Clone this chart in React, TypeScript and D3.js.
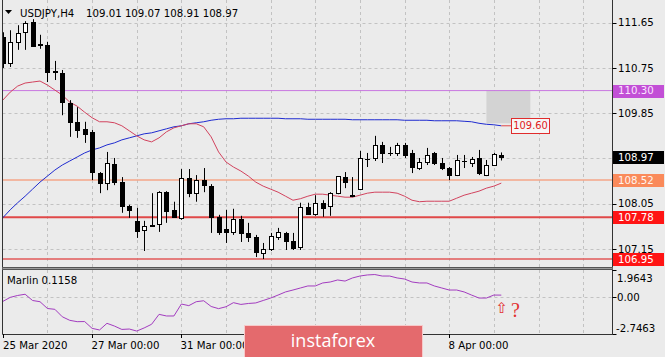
import React, { useEffect } from "react";
import * as d3 from "d3";

const W = 665;
const H = 357;

const symbolName = "USDJPY,H4";
const lastQuote = "109.01 109.07 108.91 108.97";
const indicatorName = "Marlin 0.1158";

const openP = [111.37, 110.85, 111.27, 111.46, 111.66, 111.23, 111.21, 110.69, 110.65, 110.05,
  109.68, 109.54, 109.48, 108.66, 108.46, 108.84, 108.48, 108.01, 107.71, 107.53,
  107.61, 107.65, 108.28, 107.93, 107.77, 108.56, 108.26, 108.52, 108.40, 107.79,
  107.55, 107.49, 107.75, 107.47, 107.39, 107.07, 107.15, 107.39, 107.47, 107.31,
  107.19, 107.99, 107.85, 108.07, 108.01, 108.26, 108.58, 108.22, 108.34, 108.94,
  108.96, 109.22, 109.06, 109.06, 109.22, 109.06, 108.76, 108.88, 109.06, 108.86,
  108.76, 108.62, 108.90, 108.86, 108.96, 108.62, 108.82, 109.01];
const highP = [111.46, 111.50, 111.60, 111.68, 111.72, 111.41, 111.27, 110.89, 110.71, 110.11,
  109.97, 109.68, 109.52, 108.68, 109.08, 108.96, 108.58, 108.03, 107.97, 107.71,
  108.26, 108.30, 108.30, 108.09, 108.74, 108.74, 108.62, 108.76, 108.44, 107.83,
  107.93, 107.95, 107.81, 107.67, 107.43, 107.27, 107.47, 107.57, 107.49, 107.47,
  108.07, 108.07, 108.22, 108.12, 108.28, 108.60, 108.68, 108.58, 109.10, 109.06,
  109.40, 109.28, 109.18, 109.26, 109.26, 109.12, 108.96, 109.16, 109.08, 108.96,
  108.78, 109.02, 109.02, 108.98, 109.12, 108.92, 109.06, 109.07];
const lowP = [110.75, 110.77, 111.11, 111.11, 111.17, 111.13, 110.47, 110.51, 109.81, 109.38,
  109.36, 109.26, 108.52, 108.26, 108.32, 108.42, 107.87, 107.77, 107.37, 107.11,
  107.59, 107.49, 107.67, 107.77, 107.73, 108.18, 108.09, 108.28, 107.47, 107.43,
  107.27, 107.43, 107.29, 107.29, 106.99, 106.95, 107.11, 107.33, 107.13, 107.13,
  107.13, 107.83, 107.81, 107.79, 107.81, 108.24, 108.36, 108.18, 108.32, 108.78,
  108.90, 108.86, 109.00, 109.00, 108.96, 108.66, 108.72, 108.82, 108.82, 108.72,
  108.52, 108.60, 108.76, 108.78, 108.62, 108.60, 108.80, 108.91];
const closeP = [110.85, 111.27, 111.44, 111.64, 111.19, 111.21, 110.67, 110.67, 110.07, 109.68,
  109.52, 109.44, 108.68, 108.46, 108.86, 108.48, 108.01, 107.93, 107.51, 107.61,
  107.63, 108.28, 107.91, 107.79, 108.56, 108.26, 108.52, 108.42, 107.79, 107.49,
  107.49, 107.75, 107.47, 107.39, 107.09, 107.15, 107.41, 107.49, 107.31, 107.17,
  107.99, 107.85, 108.07, 107.97, 108.26, 108.60, 108.48, 108.20, 108.96, 108.94,
  109.22, 109.06, 109.06, 109.22, 109.02, 108.78, 108.88, 109.02, 108.86, 108.76,
  108.62, 108.92, 108.90, 108.94, 108.66, 108.82, 109.04, 108.97];

const maFast = [110.11, 110.27, 110.39, 110.45, 110.47, 110.49, 110.41, 110.31, 110.21, 110.07,
  109.99, 109.87, 109.76, 109.68, 109.68, 109.66, 109.60, 109.50, 109.40, 109.32,
  109.28, 109.36, 109.48, 109.56, 109.60, 109.64, 109.64, 109.58, 109.38, 109.08,
  108.88, 108.78, 108.70, 108.60, 108.48, 108.40, 108.34, 108.28, 108.20, 108.12,
  108.15, 108.20, 108.24, 108.24, 108.22, 108.20, 108.18, 108.18, 108.22, 108.26,
  108.28, 108.28, 108.28, 108.26, 108.20, 108.12, 108.09, 108.10, 108.10, 108.10,
  108.10, 108.16, 108.22, 108.26, 108.30, 108.36, 108.40, 108.46];
const maSlow = [107.77, 107.93, 108.07, 108.20, 108.34, 108.48, 108.60, 108.72, 108.82, 108.90,
  108.98, 109.06, 109.12, 109.16, 109.22, 109.26, 109.32, 109.36, 109.40, 109.44,
  109.46, 109.50, 109.54, 109.58, 109.60, 109.64, 109.66, 109.68, 109.71, 109.73,
  109.74, 109.74, 109.75, 109.75, 109.75, 109.75, 109.75, 109.75, 109.74, 109.74,
  109.74, 109.73, 109.73, 109.73, 109.73, 109.73, 109.73, 109.72, 109.72, 109.72,
  109.72, 109.72, 109.72, 109.72, 109.71, 109.71, 109.71, 109.71, 109.70, 109.70,
  109.70, 109.70, 109.69, 109.68, 109.65, 109.63, 109.62, 109.60];
const slowLabel = "109.60";

const marlin = [-0.35, -0.05, 0.09, 0.18, -0.28, -0.37, -0.87, -0.93, -1.48, -1.74,
  -1.84, -1.83, -2.33, -2.45, -1.96, -2.16, -2.41, -2.38, -2.53, -2.30,
  -2.03, -1.30, -1.42, -1.42, -0.54, -0.66, -0.37, -0.30, -0.72, -0.88,
  -0.74, -0.44, -0.57, -0.50, -0.46, -0.28, -0.10, 0.12, 0.35, 0.49,
  0.64, 0.79, 0.79, 1.01, 1.08, 1.23, 1.15, 1.38, 1.52, 1.60,
  1.63, 1.52, 1.52, 1.38, 1.30, 1.08, 1.01, 1.01, 0.79, 0.64,
  0.49, 0.49, 0.35, 0.12, -0.10, -0.10, 0.12, 0.1158];

const priceGrid = [111.65, 110.75, 109.85, 108.95, 108.05, 107.15];
const priceTickLabels = ["111.65", "110.75", "109.85", "", "108.05", "107.15"];
const levelPrices = [110.30, 108.52, 107.78, 106.95];
const levelLabels = ["110.30", "108.52", "107.78", "106.95"];
const lastPrice = 108.97;
const lastPriceLabel = "108.97";

const oscTicks = [1.9643, 0, -2.7463];
const oscTickLabels = ["1.9643", "0.00", "-2.7463"];
const oscDomain = [-2.7463, 1.9643];

const timeTickBars = [0, 12, 24, 60];
const timeTickLabels = ["25 Mar 2020", "27 Mar 00:00", "31 Mar 00:00", "8 Apr 00:00"];
const gridBars = [6, 12, 18, 24, 30, 36, 42, 48, 54, 60, 66, 72, 78];

const zoneBars = [65, 70.9];
const zonePrices = [110.30, 109.65];

const FONT = "'DejaVu Sans', Verdana, sans-serif";
const levelLine = ["#c878e0", "#f4a688", "#e04848", "#e25858"];
const levelWidth = [1, 1.5, 2, 1.5];
const levelBox = ["#c24fd6", "#fa8a5a", "#ff1414", "#ff1414"];
const levelText = ["#fbe4ff", "#fff4ee", "#ffffff", "#ffffff"];

export default function App() {
  useEffect(() => {
    document.body.style.margin = "0";
  }, []);

  const left = 2.5;
  const right = 612.5;
  const mainBottom = 267;
  const oscTop = 270;
  const oscBottom = 334;

  const x = d3.scaleLinear().domain([0, 67]).range([2.8, 501.3]);
  const y = d3.scaleLinear().domain([107.15, 111.65]).range([249, 22.7]);
  const yo = d3.scaleLinear().domain(oscDomain).range([oscBottom, oscTop]);

  const lineP = d3.line<number>().x((_, i) => x(i)).y((d) => y(d));
  const lineO = d3.line<number>().x((_, i) => x(i)).y((d) => yo(d));

  const oscLabelY = [278.3, 297.6, 328.2];
  const boxX = Math.round(x(67) + 10) + 0.5;

  return (
    <svg width={W} height={H} style={{ display: "block", background: "#ebebeb" }}>
      <defs>
        <clipPath id="mainClip">
          <rect x={3} y={0} width={right - 3} height={mainBottom} />
        </clipPath>
        <clipPath id="oscClip">
          <rect x={3} y={oscTop} width={right - 3} height={oscBottom - oscTop} />
        </clipPath>
      </defs>
      <rect x={0} y={0} width={W} height={H} fill="#ebebeb" />

      {/* grid */}
      <g stroke="#c2c2c2" strokeDasharray="3,3" strokeWidth={1}>
        {gridBars.map((b) => (
          <g key={b}>
            <line x1={Math.round(x(b)) + 0.5} x2={Math.round(x(b)) + 0.5} y1={0} y2={mainBottom} />
            <line x1={Math.round(x(b)) + 0.5} x2={Math.round(x(b)) + 0.5} y1={oscTop} y2={oscBottom} />
          </g>
        ))}
        {priceGrid.map((p) => (
          <line key={p} x1={left} x2={right} y1={Math.round(y(p)) + 0.5} y2={Math.round(y(p)) + 0.5} />
        ))}
        <line x1={left} x2={right} y1={Math.round(yo(0)) + 0.5} y2={Math.round(yo(0)) + 0.5} />
      </g>

      <g clipPath="url(#mainClip)">
        <rect
          x={x(zoneBars[0])}
          y={y(zonePrices[0])}
          width={x(zoneBars[1]) - x(zoneBars[0])}
          height={y(zonePrices[1]) - y(zonePrices[0])}
          fill="#d3d3d3"
        />
        {levelPrices.map((p, i) => (
          <line key={p} x1={left} x2={right} y1={y(p)} y2={y(p)} stroke={levelLine[i]} strokeWidth={levelWidth[i]} />
        ))}
        <path d={lineP(maSlow) || ""} fill="none" stroke="#1f2bd0" strokeWidth={1} />
        <path d={lineP(maFast) || ""} fill="none" stroke="#d2435e" strokeWidth={1} />
        {openP.map((o, i) => {
          const cx = Math.round(x(i)) + 0.5;
          const c = closeP[i];
          const up = c > o;
          const top = Math.round(y(Math.max(o, c))) + 0.5;
          const bot = Math.round(y(Math.min(o, c))) + 0.5;
          return (
            <g key={i}>
              <line x1={cx} x2={cx} y1={y(highP[i])} y2={y(lowP[i])} stroke="#000" strokeWidth={1} />
              {bot - top < 1 ? (
                <line x1={cx - 2.5} x2={cx + 2.5} y1={top} y2={top} stroke="#000" strokeWidth={1} />
              ) : (
                <rect x={cx - 2} y={top} width={4} height={bot - top} fill={up ? "#fff" : "#000"} stroke="#000" strokeWidth={1} />
              )}
            </g>
          );
        })}
      </g>

      {/* slow MA label */}
      <line x1={x(67)} x2={boxX} y1={y(maSlow[67])} y2={y(maSlow[67])} stroke="#e04848" strokeWidth={1} />
      <rect x={boxX} y={Math.round(y(maSlow[67]) - 8) + 0.5} width={38} height={15} fill="#f6f6f6" stroke="#e02c2c" strokeWidth={1} />
      <text x={boxX + 1.8} y={y(maSlow[67])} dy="0.36em" fontFamily={FONT} fontSize={9.9} fill="#e02020">
        {slowLabel}
      </text>

      {/* header */}
      <path d="M5,10 L12,10 L8.5,14 Z" fill="#000" />
      <text x={20} y={16.5} fontFamily={FONT} fontSize={10.2} fill="#000">{symbolName}</text>
      <text x={86} y={16.5} fontFamily={FONT} fontSize={10.2} fill="#000">{lastQuote}</text>

      {/* oscillator */}
      <g clipPath="url(#oscClip)">
        <path d={lineO(marlin) || ""} fill="none" stroke="#a23cbf" strokeWidth={1} />
      </g>
      <text x={7} y={284} fontFamily={FONT} fontSize={10.2} fill="#000">{indicatorName}</text>
      <text x={495.5} y={313} fontFamily={FONT} fontSize={15} fill="#e23030">⇧</text>
      <text x={511} y={317} fontFamily="'Liberation Serif', serif" fontSize={20} fill="#e23030">?</text>

      {/* frames */}
      <g stroke="#333" strokeWidth={1} fill="none">
        <line x1={left} x2={left} y1={0} y2={oscBottom + 0.5} />
        <line x1={right} x2={right} y1={0} y2={oscBottom + 0.5} />
        <line x1={left} x2={right} y1={oscBottom + 0.5} y2={oscBottom + 0.5} />
      </g>
      <rect x={left} y={mainBottom} width={right - left} height={oscTop - mainBottom} fill="#9a9a9a" />
      <line x1={left} x2={right} y1={mainBottom + 0.5} y2={mainBottom + 0.5} stroke="#555" />
      <line x1={left} x2={right} y1={oscTop - 0.5} y2={oscTop - 0.5} stroke="#555" />

      {/* price axis */}
      {priceGrid.map((p, i) =>
        priceTickLabels[i] ? (
          <g key={p}>
            <line x1={right} x2={right + 4} y1={Math.round(y(p)) + 0.5} y2={Math.round(y(p)) + 0.5} stroke="#000" />
            <text x={618} y={y(p)} dy="0.36em" fontFamily={FONT} fontSize={10.2} fill="#000">{priceTickLabels[i]}</text>
          </g>
        ) : null
      )}
      {levelPrices.map((p, i) => (
        <g key={p}>
          <rect x={613} y={Math.round(y(p)) - 6} width={51} height={13} fill={levelBox[i]} />
          <text x={618} y={y(p)} dy="0.36em" fontFamily={FONT} fontSize={10.2} fill={levelText[i]}>{levelLabels[i]}</text>
        </g>
      ))}
      <rect x={613} y={Math.round(y(lastPrice)) - 6} width={51} height={13} fill="#000" />
      <text x={618} y={y(lastPrice)} dy="0.36em" fontFamily={FONT} fontSize={10.2} fill="#fff">{lastPriceLabel}</text>

      {/* oscillator axis */}
      {oscTicks.map((v, i) => (
        <g key={v}>
          <line x1={right} x2={right + 4} y1={Math.round(yo(v)) + 0.5} y2={Math.round(yo(v)) + 0.5} stroke="#000" />
          <text x={oscTickLabels[i].startsWith("-") ? 616 : 617} y={oscLabelY[i]} dy="0.36em" fontFamily={FONT} fontSize={10.2} fill="#000">
            {oscTickLabels[i]}
          </text>
        </g>
      ))}

      {/* time axis */}
      {timeTickBars.map((b, i) => (
        <g key={b}>
          <line x1={Math.round(x(b)) + 0.5} x2={Math.round(x(b)) + 0.5} y1={oscBottom} y2={oscBottom + 4} stroke="#000" />
          <text x={Math.max(3, Math.round(x(b)) - 0.5)} y={349} fontFamily={FONT} fontSize={10.2} fill="#000">
            {timeTickLabels[i]}
          </text>
        </g>
      ))}

      {/* logo */}
      <rect x={244.5} y={325.5} width={178} height={40} fill="#e46a6d" stroke="#f7c9c9" strokeWidth={1} />
      <text x={333} y={347} textAnchor="middle" fontFamily="'Open Sans', sans-serif" fontSize={18} fill="#ffffff">
        instaforex
      </text>
    </svg>
  );
}
